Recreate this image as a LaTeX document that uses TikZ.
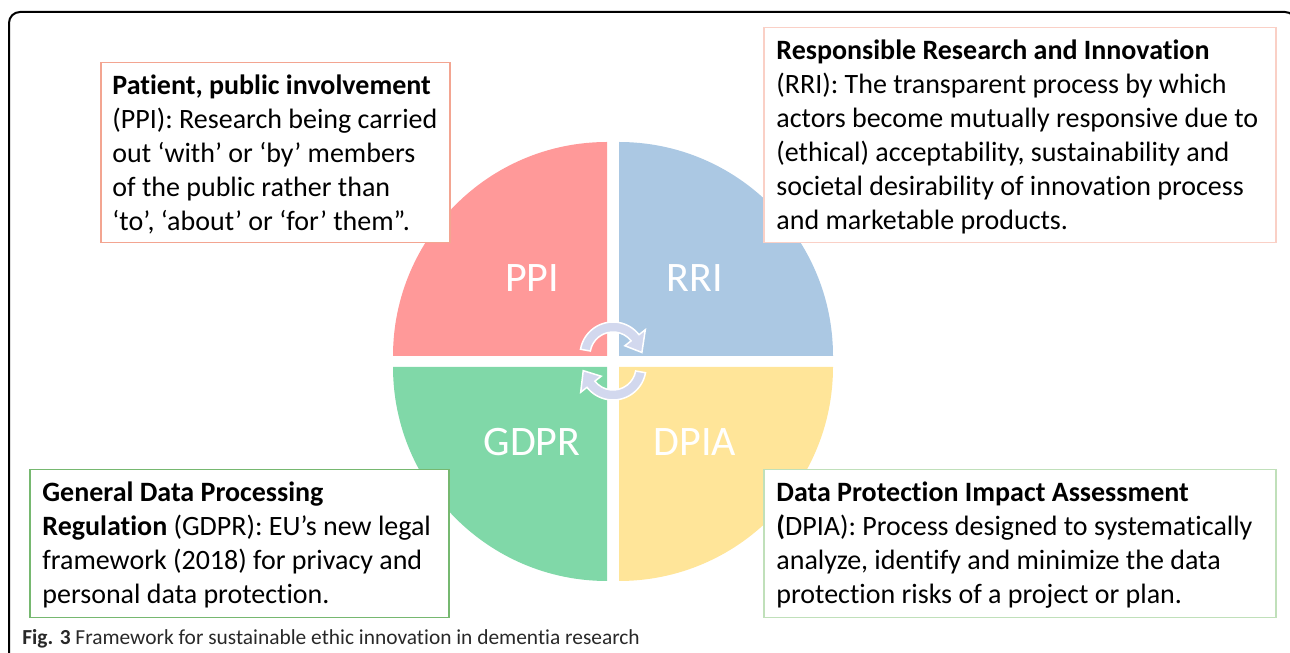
\documentclass[tikz,border=0pt]{standalone}
\usepackage{fontspec}
\setmainfont{Carlito}[Ligatures=NoCommon]

\definecolor{ppifill}{RGB}{255,153,153}
\definecolor{rrifill}{RGB}{171,200,227}
\definecolor{gdprfill}{RGB}{128,216,168}
\definecolor{dpiafill}{RGB}{255,229,153}
\definecolor{ppiline}{RGB}{243,165,145}
\definecolor{rriline}{RGB}{250,208,198}
\definecolor{gdprline}{RGB}{118,184,112}
\definecolor{dpialine}{RGB}{192,224,186}
\definecolor{swirlfill}{RGB}{210,216,238}
\definecolor{captiontext}{RGB}{40,40,40}

\begin{document}
\begin{tikzpicture}[
        x=0.5pt, y=0.5pt,
        tag/.style={text=white, font=\fontsize{21pt}{25pt}\selectfont},
        infobox/.style={rectangle, draw=#1, fill=white, line width=0.75pt, anchor=north west, inner sep=0pt},
        infotext/.style={anchor=west, align=left, inner sep=0pt, yshift=-0.8pt, font=\fontsize{14pt}{17pt}\selectfont},
        swirl/.style={fill=swirlfill, draw=white, line width=0.75pt},
        figframe/.style={draw=black, line width=1pt, rounded corners=5.5pt},
        caption/.style={anchor=base west, inner sep=0pt, text=captiontext, font=\fontsize{10.7pt}{12pt}\selectfont}
    ]
        \useasboundingbox (0,0) rectangle (1290,653);
        \clip (0,0) rectangle (1290,653);

        % Figure frame
        \draw[figframe] (9,641) rectangle (1296,-20);

        % Four quarters of the circle
        \fill[ppifill] (607,297) -- ++(180:214) arc[start angle=180, end angle=90, radius=214] -- cycle;
        \fill[rrifill] (619,297) -- ++(90:214) arc[start angle=90, end angle=0, radius=214] -- cycle;
        \fill[gdprfill] (607,286) -- ++(270:214) arc[start angle=270, end angle=180, radius=214] -- cycle;
        \fill[dpiafill] (619,286) -- ++(0:214) arc[start angle=0, end angle=-90, radius=214] -- cycle;

        % Quarter names
        \node[tag] (ppi) at (532,375) {PPI};
        \node[tag] (rri) at (695,375) {RRI};
        \node[tag] (gdpr) at (532,211) {GDPR};
        \node[tag] (dpia) at (695,211) {DPIA};

        % Circular arrows in the middle
        \begin{scope}[shift={(613,298)}]
            \filldraw[swirl] (170:33) arc[start angle=170, end angle=38, radius=33] -- (38:41) -- (5:29) -- (38:15) -- (38:23) arc[start angle=38, end angle=170, radius=23] -- cycle;
        \end{scope}
        \begin{scope}[shift={(613,286)}]
            \filldraw[swirl] (-10:33) arc[start angle=-10, end angle=-142, radius=33] -- (-142:41) -- (-173:30) -- (-142:15) -- (-142:23) arc[start angle=-142, end angle=-10, radius=23] -- cycle;
        \end{scope}

        % Definition boxes
        \node[infobox=ppiline, minimum width=174.5pt, minimum height=90pt] (ppibox) at (100,591) {};
        \node[infobox=rriline, minimum width=256pt, minimum height=107.5pt] (rribox) at (763,626) {};
        \node[infobox=gdprline, minimum width=209.5pt, minimum height=74pt] (gdprbox) at (29,184) {};
        \node[infobox=dpialine, minimum width=256pt, minimum height=74pt] (dpiabox) at (763,184) {};

        % Definition texts
        \node[infotext, xshift=6pt] (ppitext) at (ppibox.west)
            {\textbf{Patient, public involvement}\\
             (PPI): Research being carried\\
             out ‘with’ or ‘by’ members\\
             of the public rather than\\
             ‘to’, ‘about’ or ‘for’ them”.};
        \node[infotext, xshift=6.5pt] (rritext) at (rribox.west)
            {\textbf{Responsible Research and Innovation}\\
             (RRI): The transparent process by which\\
             actors become mutually responsive due to\\
             (ethical) acceptability, sustainability and\\
             societal desirability of innovation process\\
             and marketable products.};
        \node[infotext, xshift=6.5pt] (gdprtext) at (gdprbox.west)
            {\textbf{General Data Processing}\\
             \textbf{Regulation} (GDPR): EU’s new legal\\
             framework (2018) for privacy and\\
             personal data protection.};
        \node[infotext, xshift=6.5pt] (dpiatext) at (dpiabox.west)
            {\textbf{Data Protection Impact Assessment}\\
             \textbf{(}DPIA): Process designed to systematically\\
             analyze, identify and minimize the data\\
             protection risks of a project or plan.};

        % Caption
        \node[caption] (fig) at (22,9)
            {\textbf{Fig. 3} Framework for sustainable ethic innovation in dementia research};
    \end{tikzpicture}
\end{document}
